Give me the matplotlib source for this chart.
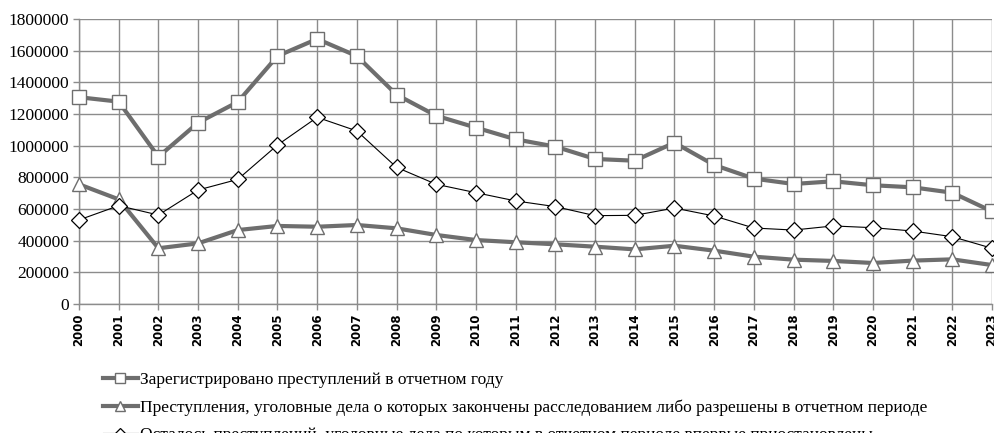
import matplotlib
matplotlib.use("Agg")
import matplotlib.pyplot as plt
from matplotlib.ticker import MultipleLocator, FuncFormatter

years = list(range(2000, 2024))

registered = [1306000, 1278000, 930000, 1145000, 1276000, 1566000, 1674000, 1566000,
              1322000, 1189000, 1114000, 1040000, 994000, 916000, 905000, 1019000,
              878000, 792000, 758000, 775000, 750000, 737000, 703000, 585000]

solved = [756000, 661000, 352000, 383000, 467000, 493000, 488000, 499000,
          478000, 436000, 404000, 390000, 377000, 362000, 345000, 368000,
          337000, 299000, 280000, 272000, 259000, 274000, 282000, 246000]

suspended = [531000, 621000, 562000, 720000, 787000, 1004000, 1179000, 1093000,
             863000, 756000, 703000, 651000, 615000, 558000, 560000, 606000,
             556000, 480000, 467000, 493000, 482000, 461000, 425000, 352000]

labels = [
    "Зарегистрировано преступлений в отчетном году",
    "Преступления, уголовные дела о которых закончены расследованием либо разрешены в отчетном периоде",
    "Осталось преступлений, уголовные дела по которым в отчетном периоде впервые приостановлены",
]

GRID = "#8c8c8c"
THICK = "#6e6e6e"

fig = plt.figure(figsize=(9.95, 4.33), dpi=100)
ax = fig.add_axes([79 / 995, 1 - 304 / 433, (992 - 79) / 995, (304 - 19) / 433])

ax.plot(years, registered, color=THICK, lw=3.0, marker="s", ms=9.5,
        mfc="white", mec=THICK, mew=1.0, clip_on=False, zorder=3, label=labels[0])
ax.plot(years, solved, color=THICK, lw=3.0, marker="^", ms=9.5,
        mfc="white", mec=THICK, mew=1.0, clip_on=False, zorder=3, label=labels[1])
ax.plot(years, suspended, color="black", lw=0.8, marker="D", ms=8,
        mfc="white", mec="black", mew=0.9, clip_on=False, zorder=3, label=labels[2])

ax.set_xlim(2000, 2023)
ax.set_ylim(0, 1800000)
ax.set_xticks(years)
ax.set_xticklabels([str(y) for y in years], rotation=90,
                   fontfamily="DejaVu Sans", fontsize=8.5, fontweight="bold")
ax.yaxis.set_major_locator(MultipleLocator(200000))
ax.yaxis.set_major_formatter(FuncFormatter(lambda v, p: f"{int(v)}"))
for t in ax.get_yticklabels():
    t.set_fontfamily("Liberation Serif")
    t.set_fontsize(12.5)

ax.grid(True, color=GRID, lw=1.0)
ax.set_axisbelow(True)
for side in ("top", "right"):
    ax.spines[side].set_visible(False)
for side in ("left", "bottom"):
    ax.spines[side].set_color(GRID)
    ax.spines[side].set_linewidth(1.0)
ax.tick_params(axis="both", color=GRID, length=4, width=1.0, labelcolor="black")
ax.tick_params(axis="y", pad=3)
ax.tick_params(axis="x", pad=3)

fig.legend(loc="upper left", bbox_to_anchor=(96 / 995, 1 - 365 / 433),
           frameon=False, ncol=1, handlelength=2.0, handletextpad=0.15,
           labelspacing=0.65, borderaxespad=0, markerscale=0.7,
           prop={"family": "Liberation Serif", "size": 12.5})

fig.savefig("out.png", dpi=100)
